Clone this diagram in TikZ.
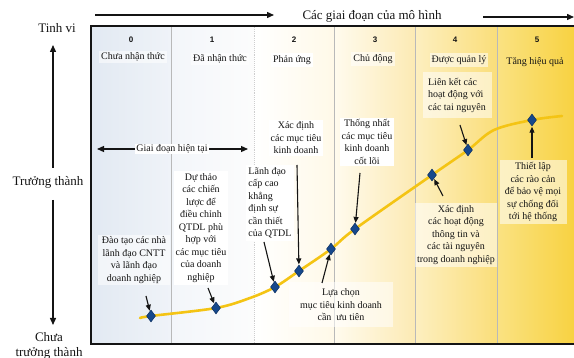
\documentclass[tikz,border=0pt]{standalone}
\usepackage{fontspec}
\setmainfont{Liberation Serif}
\newfontfamily\numfont{Liberation Sans}
\usetikzlibrary{shapes.geometric,arrows.meta}

\definecolor{cA}{RGB}{226,233,242}
\definecolor{cB}{RGB}{239,243,248}
\definecolor{cC}{RGB}{243,246,250}
\definecolor{cD}{RGB}{252,252,252}
\definecolor{cE}{RGB}{255,255,255}
\definecolor{cF}{RGB}{255,249,232}
\definecolor{cG}{RGB}{255,251,238}
\definecolor{cH}{RGB}{252,234,180}
\definecolor{cI}{RGB}{253,239,192}
\definecolor{cJ}{RGB}{250,222,122}
\definecolor{cK}{RGB}{250,226,130}
\definecolor{cL}{RGB}{248,210,66}
\definecolor{curvecol}{RGB}{244,196,20}
\definecolor{diamcol}{RGB}{22,72,140}
\definecolor{divcol}{RGB}{185,185,185}
\definecolor{inkcol}{RGB}{20,20,20}

\begin{document}
\begin{tikzpicture}[x=1pt,y=-1pt,
  lbl/.style={font=\fontsize{10}{12.5}\selectfont, align=center, inner sep=2pt, text=inkcol},
  stagename/.style={font=\fontsize{10}{11}\selectfont, inner sep=2pt, text=inkcol},
  stagenum/.style={font=\numfont\bfseries\fontsize{8}{9}\selectfont, inner sep=1pt, text=inkcol},
  bigtext/.style={font=\fontsize{13}{15}\selectfont, align=center, inner sep=1pt, text=inkcol},
  paper/.style={fill=white, fill opacity=0.55, text opacity=1},
  solidpaper/.style={fill=white},
  diam/.style={diamond, draw=diamcol!70!black, fill=diamcol, line width=0.5pt, inner sep=0pt, minimum width=9pt, minimum height=12pt},
  pointer/.style={draw=inkcol, line width=1.1pt, -{Triangle[length=6pt,width=5pt]}, shorten >=0.5pt},
  axis/.style={draw=inkcol, line width=1.4pt, -{Triangle[length=7pt,width=6pt]}},
  divider/.style={draw=divcol, line width=0.9pt}
]
\useasboundingbox (0,0) rectangle (574,358);

% stage columns, each shaded from left to right
\shade[left color=cA, right color=cB] (91,26) rectangle (171,344);
\shade[left color=cC, right color=cD] (171,26) rectangle (254,344);
\shade[left color=cE, right color=cF] (254,26) rectangle (334,344);
\shade[left color=cG, right color=cH] (334,26) rectangle (415,344);
\shade[left color=cI, right color=cJ] (415,26) rectangle (497,344);
\shade[left color=cK, right color=cL] (497,26) rectangle (574,344);

% column dividers
\draw[divider] (171,27) -- (171,344);
\draw[divider, densely dotted, draw=divcol!70] (254,27) -- (254,344);
\draw[divider] (334,27) -- (334,344);
\draw[divider] (415,27) -- (415,344);
\draw[divider] (497,27) -- (497,344);

% frame
\draw[inkcol, line width=2pt] (574,26) -- (91,26) -- (91,344) -- (574,344);

% stage numbers and names
\node[stagenum] (n0) at (131,40) {0};
\node[stagenum] (n1) at (212,40) {1};
\node[stagenum] (n2) at (294,40) {2};
\node[stagenum] (n3) at (375,40) {3};
\node[stagenum] (n4) at (455,40) {4};
\node[stagenum] (n5) at (537,40) {5};
\node[stagename, paper] (s0) at (133,57) {Chưa nhận thức};
\node[stagename, paper] (s1) at (220,59) {Đã nhận thức};
\node[stagename, solidpaper] (s2) at (292,60) {Phản ứng};
\node[stagename, paper] (s3) at (373,59) {Chủ động};
\node[stagename, paper] (s4) at (459,60) {Được quản lý};
\node[stagename] (s5) at (535,62) {Tăng hiệu quả};

% top arrows and title
\coordinate (ta1) at (95,15);
\coordinate (ta2) at (274,15);
\coordinate (tb1) at (483,17);
\coordinate (tb2) at (574,17);
\draw[axis] (ta1) -- (ta2);
\draw[axis] (tb1) -- (tb2);
\node[bigtext] (title) at (372,16) {Các giai đoạn của mô hình};

% left maturity axis
\node[bigtext] (tinhvi) at (57,28) {Tinh vi};
\node[bigtext] (truong) at (48,182) {Trưởng thành};
\node[bigtext] (chua) at (49,346) {Chưa\\trưởng thành};
\coordinate (upA) at (53,168);
\coordinate (upB) at (53,45);
\coordinate (dnA) at (53,200);
\coordinate (dnB) at (53,325);
\draw[axis] (upA) -- (upB);
\draw[axis] (dnA) -- (dnB);

% current stage span
\coordinate (gl) at (97,149);
\coordinate (gr) at (248,149);
\draw[draw=inkcol, line width=1.2pt, {Triangle[length=7pt,width=6pt]}-{Triangle[length=7pt,width=6pt]}] (gl) -- (gr);
\node[lbl, solidpaper, inner sep=1pt] (now) at (172,149) {Giai đoạn hiện tại};

% maturity curve
\draw[curvecol, line width=2.6pt, line cap=round] plot[smooth, tension=0.55] coordinates {
  (140,318) (151,316) (216,308) (250,298) (275,287) (299,271) (331,249) (355,229)
  (432,175) (468,150) (494,130) (532,120) (562,116)};

% milestones on the curve
\node[diam] (d0) at (151,316) {};
\node[diam] (d1) at (216,308) {};
\node[diam] (d2) at (275,287) {};
\node[diam] (d3) at (299,271) {};
\node[diam] (d4) at (331,249) {};
\node[diam] (d5) at (355,229) {};
\node[diam] (d6) at (432,175) {};
\node[diam] (d7) at (468,150) {};
\node[diam] (d8) at (532,120) {};

% milestone descriptions
\node[lbl, paper, minimum width=72pt] (t0) at (134,260) {Đào tạo các nhà\\lãnh đạo CNTT\\và lãnh đạo\\doanh nghiệp};
\node[lbl, solidpaper] (t1) at (201,228) {Dự thảo\\các chiến\\lược để\\điều chỉnh\\QTDL phù\\hợp với\\các mục tiêu\\của doanh\\nghiệp};
\node[lbl, solidpaper, align=left] (t2) at (270,203) {Lãnh đạo\\cấp cao\\khẳng\\định sự\\cần thiết\\của QTDL};
\node[lbl, solidpaper] (t3) at (296,138) {Xác định\\các mục tiêu\\kinh doanh};
\node[lbl, solidpaper] (t4) at (367,142) {Thống nhất\\các mục tiêu\\kinh doanh\\cốt lõi};
\node[lbl, paper, minimum width=104pt, minimum height=45pt] (t5) at (341,305) {Lựa chọn\\mục tiêu kinh doanh\\cần\ \ ưu tiên};
\node[lbl, paper, minimum width=77pt] (t6) at (456,235) {Xác định\\các hoạt động\\thông tin và\\các tài nguyên\\trong doanh nghiệp};
\node[lbl, paper, align=left, minimum width=69pt, minimum height=46pt] (t7) at (457,95) {Liên kết các\\hoạt động với\\các tai nguyên};
\node[lbl, paper, minimum width=67pt] (t8) at (533,192) {Thiết lập\\các rào cản\\để bảo vệ mọi\\sự chống đối\\tới hệ thống};

% pointers from descriptions to milestones
\coordinate (p0) at (146,296);
\coordinate (p1) at (208,288);
\coordinate (p2) at (264,242);
\coordinate (p3) at (297,165);
\coordinate (p4) at (322,283);
\coordinate (p5) at (360,173);
\coordinate (p6) at (443,196);
\coordinate (p7) at (460,125);
\coordinate (p8) at (532,158);
\draw[pointer] (p0) -- (d0);
\draw[pointer] (p1) -- (d1);
\draw[pointer] (p2) -- (d2);
\draw[pointer] (p3) -- (d3);
\draw[pointer] (p4) -- (d4);
\draw[pointer] (p5) -- (d5);
\draw[pointer] (p6) -- (d6);
\draw[pointer] (p7) -- (d7);
\draw[pointer] (p8) -- (d8);
\end{tikzpicture}
\end{document}
